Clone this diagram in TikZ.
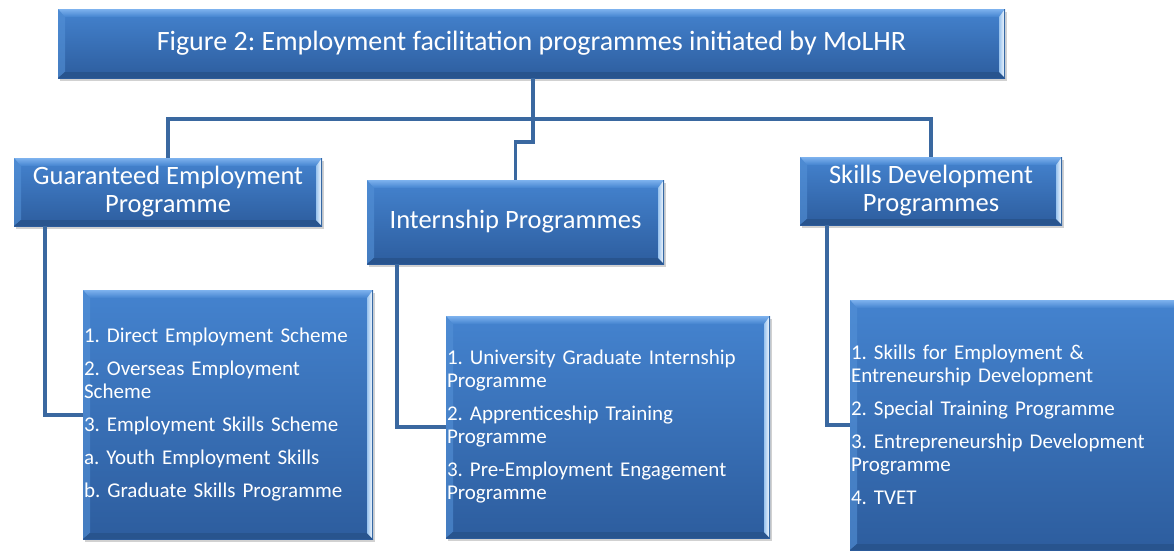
\documentclass[tikz,border=0pt]{standalone}
\usepackage{fontspec}
\setmainfont{Carlito}
\frenchspacing
\usetikzlibrary{backgrounds}
\definecolor{boxtop}{RGB}{68,131,207}
\definecolor{boxbot}{RGB}{45,93,158}
\definecolor{bevtop}{RGB}{125,178,238}
\definecolor{bevleft}{RGB}{84,145,215}
\definecolor{bevbot}{RGB}{40,84,142}
\definecolor{bevright}{RGB}{190,222,252}
\definecolor{linec}{RGB}{58,104,160}
\tikzset{
  bev/.style={rectangle, inner sep=0pt, outer sep=0pt, anchor=north west,
    top color=boxtop, bottom color=boxbot, draw=none, text=white,
    path picture={
      \coordinate (nw) at (path picture bounding box.north west);
      \coordinate (ne) at (path picture bounding box.north east);
      \coordinate (sw) at (path picture bounding box.south west);
      \coordinate (se) at (path picture bounding box.south east);
      \shade[top color=bevtop, bottom color=boxtop]
        (nw) -- (ne) -- ([xshift=-6pt,yshift=-8pt]ne) -- ([xshift=7pt,yshift=-8pt]nw) -- cycle;
      \fill[bevleft, opacity=0.6]
        (nw) -- ([xshift=7pt,yshift=-8pt]nw) -- ([xshift=7pt,yshift=6pt]sw) -- (sw) -- cycle;
      \fill[bevbot]
        (sw) -- (se) -- ([xshift=-6pt,yshift=6pt]se) -- ([xshift=7pt,yshift=6pt]sw) -- cycle;
      \shade[left color=bevright!70!boxtop, right color=white]
        (ne) -- (se) -- ([xshift=-6pt,yshift=6pt]se) -- ([xshift=-6pt,yshift=-8pt]ne) -- cycle;
      \fill[boxtop!80!black] ([xshift=-0.8pt]ne) rectangle (se);
    }},
  headfont/.style={font=\fontsize{28}{32}\selectfont},
  midfont/.style={font=\fontsize{26.5}{29}\selectfont, align=center},
  listfont/.style={font=\fontsize{21}{23}\selectfont, align=left},
  conn/.style={draw=linec, line width=3.8pt},
  shadowc/.style={fill=black, opacity=0.18},
}
\begin{document}
\begin{tikzpicture}[x=1pt, y=-1pt]
\clip (0,0) rectangle (1174,550);
% top
\node[bev, headfont, minimum width=947pt, minimum height=69pt] (title) at (58,9)
  {Figure 2: Employment facilitation programmes initiated by MoLHR};
% middle level
\node[bev, midfont, minimum width=308pt, minimum height=68pt] (gep) at (14,158)
  {Guaranteed Employment\\[-1pt]Programme};
\node[bev, midfont, minimum width=297pt, minimum height=84pt] (ip) at (367,180)
  {Internship Programmes};
\node[bev, midfont, minimum width=262pt, minimum height=68pt] (sdp) at (800,157)
  {Skills Development\\[-1pt]Programmes};
% list boxes
\node[bev, listfont, minimum width=290pt, minimum height=249pt, text width=288pt, inner xsep=0.5pt] (l1) at (83,290)
  {1. Direct Employment Scheme\\[10pt]
   2. Overseas Employment\\Scheme\\[10pt]
   3. Employment Skills Scheme\\[10pt]
   a. Youth Employment Skills\\[10pt]
   b. Graduate Skills Programme};
\node[bev, listfont, minimum width=324pt, minimum height=222pt, text width=322pt, inner xsep=0.5pt] (l2) at (446,316)
  {1. University Graduate Internship\\Programme\\[10pt]
   2. Apprenticeship Training\\Programme\\[10pt]
   3. Pre-Employment Engagement\\Programme};
\node[bev, listfont, minimum width=330pt, minimum height=250pt, text width=328pt, inner xsep=0.5pt] (l3) at (850,300)
  {1. Skills for Employment \&\\Entreneurship Development\\[10pt]
   2. Special Training Programme\\[10pt]
   3. Entrepreneurship Development\\Programme\\[10pt]
   4. TVET};
% shadows
\begin{pgfonlayer}{background}
\foreach \n in {title,gep,ip,sdp,l1,l2,l3}{
  \fill[shadowc] ([shift={(2pt,-3pt)}]\n.south west) rectangle ([shift={(2pt,-3pt)}]\n.north east);
}
\end{pgfonlayer}
% connectors
\coordinate (hub) at (533,119);
\coordinate (ga) at (45,415);
\coordinate (ia) at (397,427);
\coordinate (sa) at (827,425);
\draw[conn] (title.south -| hub) -- (hub);
\draw[conn] (gep.north) |- (hub) -| (sdp.north);
\draw[conn] (hub) -- ++(0,23) -| (ip.north);
\draw[conn] (gep.south -| ga) |- (l1.west |- ga);
\draw[conn] (ip.south -| ia) |- (l2.west |- ia);
\draw[conn] (sdp.south -| sa) |- (l3.west |- sa);
\end{tikzpicture}
\end{document}
